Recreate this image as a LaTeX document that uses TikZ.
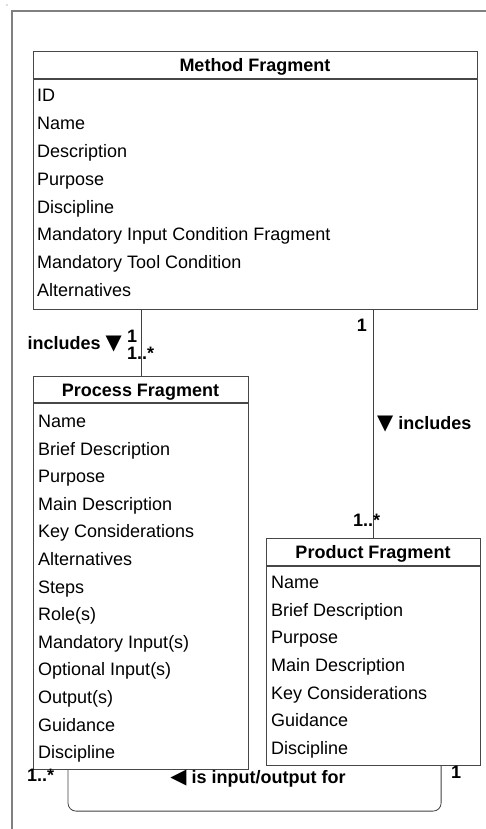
\documentclass[tikz,border=0pt]{standalone}
\usepackage{fontspec}
\setmainfont{Liberation Sans}
\newfontfamily\symfont{DejaVu Sans}
\newcommand{\tri}[1]{{\symfont\fontsize{21}{22}\selectfont #1}}
\begin{document}
\begin{tikzpicture}[x=1pt,y=-1pt,
  frameline/.style={draw=black!50, line width=1.3pt},
  classbox/.style={draw=black!72, line width=1.1pt, fill=white, rectangle,
    anchor=north west, inner sep=0pt},
  sepline/.style={draw=black!72, line width=1.1pt},
  header/.style={font=\fontsize{18}{20}\selectfont\bfseries, inner sep=0pt,
    text height=12.9pt, text depth=0pt},
  attr/.style={font=\fontsize{18}{20}\selectfont, anchor=west, inner sep=0pt,
    text height=12.9pt, text depth=0pt},
  assoc/.style={draw=black!75, line width=0.8pt},
  lbl/.style={font=\fontsize{18}{20}\selectfont\bfseries, inner sep=0pt,
    text height=12.9pt, text depth=0pt}
]
\useasboundingbox (0,0) rectangle (486,829);

% outer frame (top and left edges)
\draw[frameline] (12,829) -- (12,11) -- (486,11);
\fill[black!60] (7,5) circle (0.6pt);

% ---- Method Fragment ----
\node[classbox, minimum width=444pt, minimum height=258pt] (mf) at (33,51) {};
\draw[sepline] (33,79) -- (477,79);
\node[header] (mfh) at (255,65) {Method Fragment};
\foreach \t [count=\i from 0] in {ID,Name,Description,Purpose,Discipline,
    Mandatory Input Condition Fragment,Mandatory Tool Condition,Alternatives}
  \node[attr] (mfa\i) at (37,{95+27.9*\i}) {\t};

% ---- Process Fragment ----
\node[classbox, minimum width=215pt, minimum height=393pt] (pf) at (33,376) {};
\draw[sepline] (33,403) -- (248,403);
\node[header] (pfh) at (140.5,390) {Process Fragment};
\foreach \t [count=\i from 0] in {Name,Brief Description,Purpose,Main Description,
    Key Considerations,Alternatives,Steps,Role(s),Mandatory Input(s),
    Optional Input(s),Output(s),Guidance,Discipline}
  \node[attr] (pfa\i) at (38,{421+27.6*\i}) {\t};

% ---- Product Fragment ----
\node[classbox, minimum width=214pt, minimum height=227pt] (prf) at (266,538) {};
\draw[sepline] (266,566) -- (480,566);
\node[header] (prfh) at (373,552) {Product Fragment};
\foreach \t [count=\i from 0] in {Name,Brief Description,Purpose,Main Description,
    Key Considerations,Guidance,Discipline}
  \node[attr] (prfa\i) at (271,{582+27.7*\i}) {\t};

% ---- associations ----
\draw[assoc] (mf.south -| pf.north) -- (pf.north);
\draw[assoc] (mf.south -| prf.north) -- (prf.north);
\coordinate (pfout) at ([xshift=35pt]pf.south west);
\coordinate (prfout) at ([xshift=-40pt]prf.south east);
\draw[assoc, rounded corners=8pt] (pfout) -- ++(0,41) -| (prfout);

% ---- association labels ----
\node[lbl, anchor=east] (inc1) at (122,343) {includes \tri{▼}};
\node[lbl, anchor=west] (m1a) at (127,336) {1};
\node[lbl, anchor=west] (m1b) at (127,353) {1..*};

\node[lbl, anchor=east] (m2a) at (367,325) {1};
\node[lbl, anchor=west] (inc2) at (377,423) {\tri{▼} includes};
\node[lbl, anchor=west] (m2b) at (353,520) {1..*};

\node[lbl, anchor=west] (m3a) at (27,775) {1..*};
\node[lbl] (io) at (258,777) {\tri{◀} is input/output for};
\node[lbl, anchor=west] (m3b) at (451,772) {1};
\end{tikzpicture}
\end{document}
